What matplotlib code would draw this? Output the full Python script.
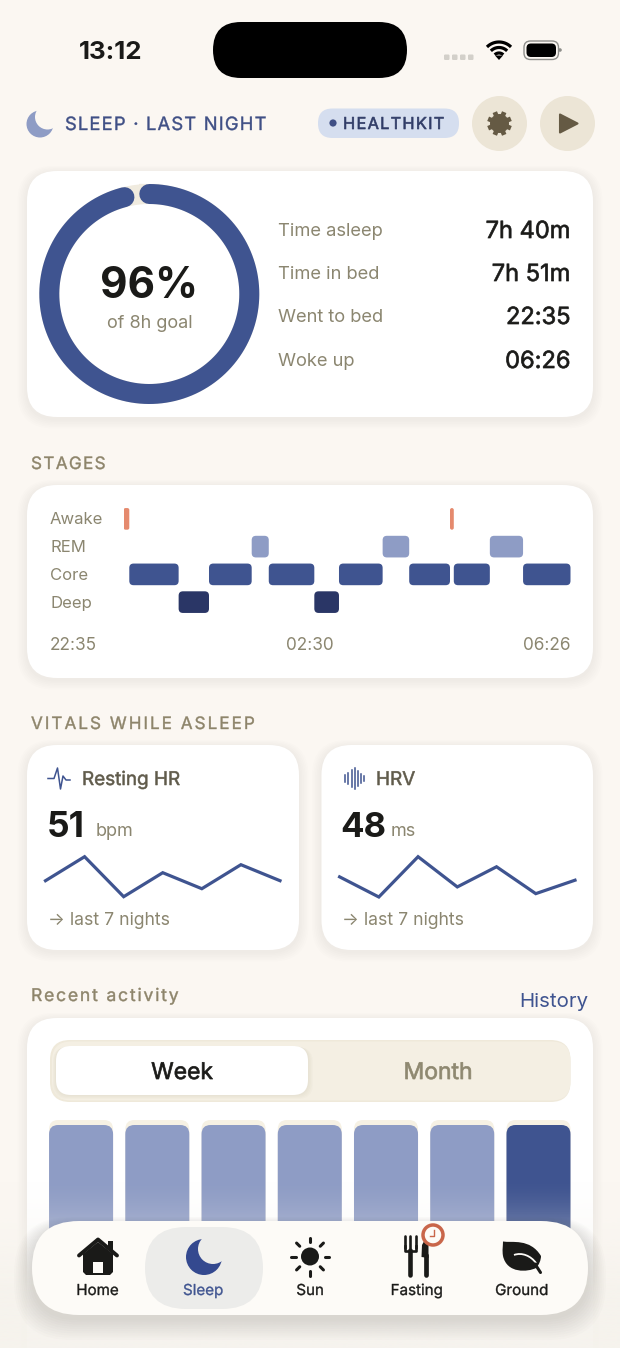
import numpy as np
import matplotlib
matplotlib.use('Agg')
import matplotlib.pyplot as plt
import matplotlib.patheffects as pe
from matplotlib.patches import FancyBboxPatch, Circle, Polygon, PathPatch
from matplotlib.path import Path
from matplotlib.text import Text

plt.rcParams['font.family'] = ['Inter', 'DejaVu Sans']

# data
ring_pct = 96
stat_labels = ['Time asleep', 'Time in bed', 'Went to bed', 'Woke up']
stat_values = ['7h 40m', '7h 51m', '22:35', '06:26']

stage_names = ['Deep', 'Core', 'REM', 'Awake']
awake_spans = [(0, 6), (344, 4)]
rem_spans = [(135, 18), (273, 28), (386, 35)]
core_spans = [(6, 52), (90, 45), (153, 48), (227, 46), (301, 43), (348, 38), (421, 50)]
deep_spans = [(58, 32), (201, 26)]
night_minutes = 471
stage_ticks = ['22:35', '02:30', '06:26']

hr_nights = [52, 55, 50, 53, 51, 54, 52]
hrv_nights = [47, 44, 50, 45.5, 48.5, 44.5, 46.5]

week_hours = [7.75, 7.75, 7.75, 7.75, 7.75, 7.75, 7.75]
goal_hours = 8

tab_labels = ['Home', 'Sleep', 'Sun', 'Fasting', 'Ground']

# colours
BG = '#fbf7f2'
INK = '#1a1a18'
MUTED = '#8b8670'
SECTION = '#8d846a'
NAVY = '#3f5490'
LIGHT = '#8e9cc5'
DEEP = '#2a3666'
AWAKE = '#e58a6e'
BEIGE = '#ece5d6'
BROWN = '#655a44'

W, H = 620, 1348
fig = plt.figure(figsize=(W / 100, H / 100), dpi=100, facecolor=BG)


def canvas(z):
    ax = fig.add_axes([0, 0, 1, 1], zorder=z)
    ax.set_xlim(0, W)
    ax.set_ylim(H, 0)
    ax.axis('off')
    return ax


def inset(x0, y0, x1, y1):
    ax = fig.add_axes([x0 / W, 1 - y1 / H, (x1 - x0) / W, (y1 - y0) / H], zorder=1)
    ax.axis('off')
    return ax


def rounded(ax, x0, y0, x1, y1, r, color, **kw):
    p = FancyBboxPatch((x0, y0), x1 - x0, y1 - y0, boxstyle=f'round,pad=0,rounding_size={r}',
                       fc=color, ec='none', **kw)
    ax.add_patch(p)
    return p


def card(ax, x0, y0, x1, y1, r=30):
    # soft shadow from a few stacked layers
    for i in range(6, 0, -1):
        rounded(ax, x0 - i * 1.6, y0 - i * 1.2 + 2, x1 + i * 1.6, y1 + i * 1.6 + 2, r + i, '#6b5f45', alpha=0.009)
    rounded(ax, x0, y0, x1, y1, r, 'white')


class Heavy(pe.AbstractPathEffect):
    # the font has no medium cut, so thicken the regular one a little.
    # snapping is off, otherwise straight letters like L and T come out thin
    def __init__(self, width, color):
        super().__init__()
        self.width = width
        self.color = color

    def draw_path(self, renderer, gc, tpath, affine, rgbFace=None):
        gc0 = renderer.new_gc()
        gc0.copy_properties(gc)
        gc0.set_snap(False)
        gc0.set_linewidth(self.width)
        gc0.set_foreground(self.color)
        renderer.draw_path(gc0, tpath, affine, rgbFace)
        gc0.restore()


def label(ax, x, y, s, size, color, heavy=0, **kw):
    kw.setdefault('ha', 'left')
    if heavy:
        kw['path_effects'] = [Heavy(heavy, color)]
    return ax.text(x, y, s, fontsize=size, color=color, va='baseline', **kw)


class SpacedText(Text):
    # a whole string drawn with extra room between the letters
    def __init__(self, x, y, text, spacing=0, **kw):
        super().__init__(x, y, text, **kw)
        self.spacing = spacing

    def draw(self, renderer):
        prop = self.get_fontproperties()
        s = self.get_text()
        px, py = self.get_transform().transform(self.get_position())
        for i, ch in enumerate(s):
            if ch == ' ':
                continue
            w_all = renderer.get_text_width_height_descent(s[:i + 1], prop, False)[0]
            w_ch = renderer.get_text_width_height_descent(ch, prop, False)[0]
            t = Text(px + w_all - w_ch + i * self.spacing, py, ch, fontproperties=prop,
                     color=self.get_color(), va='baseline', ha='left', transform=None,
                     path_effects=self.get_path_effects())
            t.set_figure(self.get_figure())
            t.draw(renderer)


def spaced(ax, x, y, s, spacing, size, color, heavy=0.3):
    t = SpacedText(x, y, s, spacing=spacing, va='baseline', ha='left', fontsize=size, color=color,
                   path_effects=[Heavy(heavy, color)])
    ax.add_artist(t)
    return t


def moon(ax, cx, cy, r, color, bg, dx, dy, r2):
    ax.add_patch(Circle((cx, cy), r, fc=color, ec='none'))
    ax.add_patch(Circle((cx + dx, cy + dy), r2, fc=bg, ec='none'))


def stage_row(ax, spans, row, color, r):
    aspect = (1 / 27.7) / (night_minutes / 446.9)
    for start, dur in spans:
        ax.add_patch(FancyBboxPatch((start, row - 0.39), dur, 0.78,
                                    boxstyle=f'round,pad=0,rounding_size={r}',
                                    mutation_aspect=aspect, fc=color, ec='none'))


base = canvas(0)
top = canvas(2)

# status bar
label(base, 110.5, 59, '13:12', 18.6, INK, fontweight='bold', ha='center')
rounded(base, 213, 22, 407, 78, 28, 'black')
for x in [444, 452, 460, 468]:
    rounded(base, x, 54.5, x + 5.5, 60, 1.2, '#d3d0ca')
for r, lw in [(17, 2.3), (11.5, 2.3), (6, 2.3)]:
    a = np.radians(np.linspace(-135, -45, 20))
    base.plot(499 + r * np.cos(a), 59 + r * np.sin(a), color='black', lw=lw, solid_capstyle='butt')
base.add_patch(Polygon([(499, 60), (495, 55.5), (503, 55.5)], fc='black', ec='none'))
p = rounded(base, 524, 41, 558.5, 59.5, 6.5, 'none')
p.set_edgecolor('#8e8e8a')
p.set_linewidth(1)
rounded(base, 526.5, 43.5, 556, 57, 4.5, 'black')
base.add_patch(Circle((560, 50), 1.8, fc='#8e8e8a', ec='none'))

# header
moon(base, 40, 124, 13.5, LIGHT, BG, 7.5, -7, 12.5)
spaced(base, 65, 130, 'SLEEP · LAST NIGHT', 1.25, 13.2, '#3f4f85')
rounded(base, 318, 108.5, 459, 138, 14.5, '#d5deef')
base.add_patch(Circle((333, 123), 3.6, fc='#3f4f85', ec='none'))
spaced(base, 343, 129, 'HEALTHKIT', 1.25, 11.8, '#2f3b66', heavy=0.45)
base.add_patch(Circle((499.5, 123.5), 27.5, fc=BEIGE, ec='none'))
base.add_patch(Circle((567.5, 123.5), 27.5, fc=BEIGE, ec='none'))
for a in np.radians(np.arange(0, 360, 45) + 22.5):
    base.plot([499.5, 499.5 + 12.3 * np.cos(a)], [123.5, 123.5 + 12.3 * np.sin(a)], color=BROWN, lw=3.4,
              solid_capstyle='butt')
base.add_patch(Circle((499.5, 123.5), 9.5, fc=BROWN, ec='none'))
base.add_patch(Circle((499.5, 123.5), 3.8, fc=BEIGE, ec='none'))
base.add_patch(Polygon([(560, 114.5), (560, 132.5), (577.5, 123.5)], fc=BROWN, ec=BROWN, lw=1.5, joinstyle='round'))

# summary card
card(base, 27, 171, 593, 417, 30)
ring = inset(39.3, 184, 259.3, 404)
ring.set_xlim(-110, 110)
ring.set_ylim(-110, 110)
full = np.radians(np.linspace(0, 360, 300))
ring.plot(100 * np.sin(full), 100 * np.cos(full), color='#f0ebdf', lw=14.4, clip_on=False)
a = np.radians(np.linspace(0, 3.6 * ring_pct, 300))
ring.plot(100 * np.sin(a), 100 * np.cos(a), color=NAVY, lw=14.4, solid_capstyle='round', clip_on=False)
label(base, 149.5, 298, f'{ring_pct}%', 30.5, INK, fontweight='bold', ha='center')
label(base, 149.5, 328, 'of 8h goal', 13, MUTED, ha='center')
for y, lab, val in zip([236, 279, 322, 366], stat_labels, stat_values):
    label(base, 278, y, lab, 13.2, MUTED)
    label(base, 570.5, y + 2, val, 17, INK, heavy=0.5, ha='right')

# stages
spaced(base, 31, 469, 'STAGES', 1.35, 12.3, SECTION)
card(base, 27, 485, 593, 678, 30)
for y, name in zip([524, 552, 580, 608], stage_names[::-1]):
    label(base, 50, y, name, 12, MUTED)
st = inset(123.6, 505, 570.5, 616)
st.set_xlim(0, night_minutes)
st.set_ylim(-0.5, 3.5)
stage_row(st, awake_spans, 3, AWAKE, 2)
stage_row(st, rem_spans, 2, LIGHT, 4.5)
stage_row(st, core_spans, 1, NAVY, 4.5)
stage_row(st, deep_spans, 0, DEEP, 4.5)
for x, ha, lab in zip([50, 310, 570.5], ['left', 'center', 'right'], stage_ticks):
    label(base, x, 650, lab, 12.4, MUTED, ha=ha)

# vitals
spaced(base, 31, 729, 'VITALS WHILE ASLEEP', 2.05, 12.3, SECTION)
card(base, 27, 745, 299, 950, 30)
card(base, 321.5, 745, 593, 950, 30)
base.plot([48, 54, 57.5, 60.5, 63, 66, 70], [778.5, 778.5, 768, 789, 776, 780, 780], color=NAVY, lw=1.1)
for x, h in zip([344.5, 348, 351.5, 354.5, 357.5, 361, 364], [7, 13, 18, 23, 17, 11, 6]):
    base.plot([x, x], [778.5 - h / 2 * 0.9, 778.5 + h / 2 * 0.9], color=NAVY, lw=1.1)
label(base, 82, 785, 'Resting HR', 13.6, '#5f5a4a', heavy=0.4)
label(base, 376, 785, 'HRV', 13.6, '#5f5a4a', heavy=0.4)
label(base, 47, 837, '51', 25.5, INK, fontweight='bold')
label(base, 95.5, 836, 'bpm', 13, MUTED)
label(base, 340.5, 837, '48', 25, INK, fontweight='bold')
label(base, 390.5, 836, 'ms', 13, MUTED)
label(base, 48, 925, '→ last 7 nights', 12.7, MUTED)
label(base, 342, 925, '→ last 7 nights', 12.7, MUTED)

hr_ax = inset(45.5, 856.7, 280, 896.7)
hr_ax.plot(range(7), hr_nights, color=NAVY, lw=2.3, solid_joinstyle='miter', clip_on=False)
hr_ax.set_xlim(0, 6)
hr_ax.set_ylim(50, 55)
hrv_ax = inset(339.6, 856.7, 575, 897)
hrv_ax.plot(range(7), hrv_nights, color=NAVY, lw=2.3, solid_joinstyle='miter', clip_on=False)
hrv_ax.set_xlim(0, 6)
hrv_ax.set_ylim(44, 50)

# recent activity
spaced(base, 31, 1001, 'Recent activity', 1.85, 12.6, SECTION)
label(base, 588.5, 1007, 'History', 14.7, NAVY, ha='right')
card(base, 27, 1018, 593, 1400, 30)
rounded(base, 50, 1040, 570.5, 1102, 20, '#efe9da')
rounded(base, 52, 1041.5, 570.5, 1100.5, 19, '#f4efe3')
for i in range(4, 0, -1):
    rounded(base, 56 - i * 0.8, 1046 + i * 0.3, 308 + i * 1.2, 1095 + i, 15, '#6b5f45', alpha=0.02)
rounded(base, 56, 1046, 308, 1095, 15, 'white')
label(base, 182, 1079, 'Week', 16.5, INK, heavy=0.5, ha='center')
label(base, 438, 1079, 'Month', 16.5, '#8e8870', heavy=0.5, ha='center')

wk = inset(42.95, 1120, 576.6, 1280)
wk.set_xlim(-0.5, 6.5)
wk.set_ylim(0, goal_hours)
aspect = (goal_hours / 160) / (7 / 533.65)
for i, v in enumerate(week_hours):
    wk.add_patch(FancyBboxPatch((i - 0.42, 0), 0.84, goal_hours, boxstyle='round,pad=0,rounding_size=0.12',
                                mutation_aspect=aspect, fc='#f6f1e4', ec='none'))
    wk.add_patch(FancyBboxPatch((i - 0.42, 0), 0.84, v, boxstyle='round,pad=0,rounding_size=0.12',
                                mutation_aspect=aspect, fc=NAVY if i == 6 else LIGHT, ec='none'))

# fade under the tab bar
fade = np.zeros((200, 1, 4))
fade[..., :3] = matplotlib.colors.to_rgb('#f6f3ed')
fade[:, 0, 3] = np.clip(np.linspace(0, 170 / 120, 200) ** 1.6, 0, 0.93)
top.imshow(fade, extent=(0, W, 1348, 1178), aspect='auto', zorder=1)
top.set_xlim(0, W)
top.set_ylim(H, 0)

# tab bar
for i in range(10, 0, -1):
    rounded(top, 32 - i * 1.8, 1221 - i * 0.8 + 4, 588 + i * 1.8, 1315 + i * 2.2 + 3, 47 + i, '#333028', alpha=0.012, zorder=2)
rounded(top, 32, 1221, 588, 1315, 47, '#fdfbf7', zorder=3)
rounded(top, 145, 1227, 263, 1309, 41, '#ececea', zorder=3)
for x, lab in zip([97.5, 203, 310, 416.5, 521.5], tab_labels):
    label(top, x, 1295, lab, 10.9, NAVY if lab == 'Sleep' else INK, heavy=0.25, ha='center', zorder=5)

# home
top.add_patch(Polygon([(83, 1254), (98, 1242), (113, 1254), (113, 1272), (110, 1275), (86, 1275), (83, 1272)],
                      fc=INK, ec='none', zorder=4))
top.plot([79, 98, 117], [1255.5, 1239.5, 1255.5], color=INK, lw=2.8, solid_capstyle='round', solid_joinstyle='round', zorder=4)
top.add_patch(Polygon([(108, 1241), (113, 1241), (113, 1252), (108, 1248)], fc=INK, ec='none', zorder=4))
top.add_patch(Polygon([(93, 1262), (103, 1262), (103, 1272.5), (93, 1272.5)], fc='#fdfbf7', ec='none', zorder=5))

# moon
top.add_patch(Circle((204, 1257), 18, fc='#34498f', ec='none', zorder=4))
top.add_patch(Circle((213, 1249), 15, fc='#ececea', ec='none', zorder=5))

# sun
top.add_patch(Circle((310, 1256.5), 9, fc=INK, ec='none', zorder=4))
for a in np.radians(np.arange(0, 360, 45)):
    top.plot([310 + 14.5 * np.cos(a), 310 + 19 * np.cos(a)], [1256.5 + 14.5 * np.sin(a), 1256.5 + 19 * np.sin(a)],
             color=INK, lw=2.2, solid_capstyle='round', zorder=4)

# fork and knife
top.plot([410, 410], [1250, 1275], color=INK, lw=3.3, solid_capstyle='round', zorder=4)
for x in [405, 410, 415.5]:
    top.plot([x, x], [1236, 1248], color=INK, lw=1.9, solid_capstyle='round', zorder=4)
top.plot([405, 405, 415.5, 415.5], [1246, 1251, 1251, 1246], color=INK, lw=1.9, zorder=4)
top.plot([426, 426], [1255, 1275], color=INK, lw=3.4, solid_capstyle='round', zorder=4)
top.add_patch(Polygon([(421.5, 1257), (422, 1245), (427, 1236), (428.5, 1236), (428.5, 1258)], fc=INK, ec='none', zorder=4))
top.add_patch(Circle((433, 1235), 10, fc='#fdfbf7', ec='#c9664a', lw=2.5, zorder=5))
top.plot([433.5, 433.5, 429.5], [1230, 1236, 1236], color='#c9664a', lw=1, zorder=6)

# leaf
leaf = Path([(503, 1241.5), (512, 1243), (530, 1238), (541, 1256), (541, 1260), (539, 1265), (536, 1268),
             (528, 1272), (507, 1274), (503, 1256), (502, 1250), (503, 1246), (503, 1241.5)],
            [Path.MOVETO] + [Path.CURVE4] * 12)
top.add_patch(PathPatch(leaf, fc=INK, ec='none', zorder=4))
vein = Path([(514, 1255), (522, 1252), (531, 1256), (536, 1263)], [Path.MOVETO, Path.CURVE4, Path.CURVE4, Path.CURVE4])
top.add_patch(PathPatch(vein, fc='none', ec='#fdfbf7', lw=1.3, zorder=5))
top.plot([535, 540.5], [1264, 1272.5], color=INK, lw=2.2, solid_capstyle='round', zorder=6)

fig.savefig('out.png', dpi=100, facecolor=BG)
